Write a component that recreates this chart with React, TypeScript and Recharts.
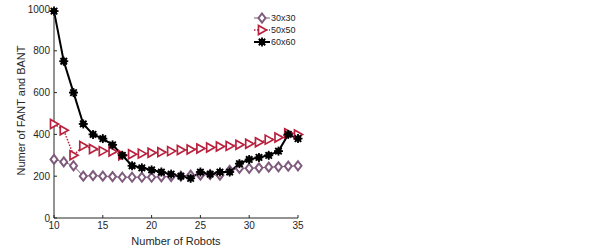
import React from 'react';
import { LineChart, Line, XAxis, YAxis } from 'recharts';

const robots = [10, 11, 12, 13, 14, 15, 16, 17, 18, 19, 20, 21, 22, 23, 24, 25, 26, 27, 28, 29, 30, 31, 32, 33, 34, 35];
const grid30 = [280, 268, 250, 200, 203, 200, 198, 195, 195, 195, 195, 197, 198, 200, 205, 205, 208, 205, 228, 238, 238, 240, 243, 245, 248, 250];
const grid50 = [450, 420, 300, 345, 330, 320, 318, 300, 305, 308, 312, 315, 320, 325, 328, 332, 337, 342, 345, 350, 355, 362, 375, 385, 405, 400];
const grid60 = [990, 750, 600, 450, 400, 380, 350, 300, 250, 240, 230, 220, 210, 200, 190, 220, 210, 220, 220, 260, 280, 290, 300, 320, 400, 380];
const xTicks = [10, 15, 20, 25, 30, 35];
const yTicks = [0, 200, 400, 600, 800, 1000];

const PURPLE = '#7e5a7c';
const RED = '#b8213d';
const INK = '#262626';
const FONT = 'Liberation Sans, Arial, sans-serif';

const data = robots.map((n, i) => ({ n, g30: grid30[i], g50: grid50[i], g60: grid60[i] }));

function Diamond({ cx, cy }: any) {
    if (cx == null) return null;
    return <polygon points={`${cx},${cy - 4.5} ${cx + 3.5},${cy} ${cx},${cy + 4.5} ${cx - 3.5},${cy}`} fill="#fff" stroke={PURPLE} strokeWidth={2} />;
}

function Tri({ cx, cy }: any) {
    if (cx == null) return null;
    return <polygon points={`${cx - 3.5},${cy - 4.5} ${cx + 4.5},${cy} ${cx - 3.5},${cy + 4.5}`} fill="#fff" stroke={RED} strokeWidth={1.7} />;
}

function Star({ cx, cy }: any) {
    if (cx == null) return null;
    const r = 4.5;
    const d = r * 0.72;
    return (
        <g stroke="#000" strokeWidth={1.8}>
            <line x1={cx - r} y1={cy} x2={cx + r} y2={cy} />
            <line x1={cx} y1={cy - r} x2={cx} y2={cy + r} />
            <line x1={cx - d} y1={cy - d} x2={cx + d} y2={cy + d} />
            <line x1={cx - d} y1={cy + d} x2={cx + d} y2={cy - d} />
            <circle cx={cx} cy={cy} r={2.3} fill="#000" />
        </g>
    );
}

// legend drawn on top of the chart, top-right inside the box
function LegendBox() {
    const rows = [
        { label: '30x30', color: PURPLE, dash: undefined, Mark: Diamond, w: 1 },
        { label: '50x50', color: RED, dash: '1.5 1.5', Mark: Tri, w: 1.5 },
        { label: '60x60', color: '#000', dash: undefined, Mark: Star, w: 2 },
    ];
    return (
        <svg width={60} height={40} style={{ position: 'absolute', left: 252, top: 12 }}>
            {rows.map((r, i) => {
                const y = 6 + i * 12;
                return (
                    <g key={r.label}>
                        <line x1={2} y1={y} x2={18} y2={y} stroke={r.color} strokeWidth={r.w} strokeDasharray={r.dash} />
                        <r.Mark cx={10} cy={y} />
                        <text x={19} y={y + 3} fontSize={9} fill={INK} fontFamily={FONT}>{r.label}</text>
                    </g>
                );
            })}
        </svg>
    );
}

export default function App() {
    const tickStyle = { fontSize: 10, fill: INK, fontFamily: FONT };
    return (
        <div style={{ position: 'absolute', left: 0, top: 0, width: 600, height: 250, background: '#fff' }}>
            <LineChart width={600} height={250} data={data} margin={{ top: 9, right: 302, left: 10, bottom: 2 }}>
                <XAxis
                    dataKey="n"
                    type="number"
                    domain={[10, 35]}
                    ticks={xTicks}
                    stroke={INK}
                    tickSize={-3}
                    tickMargin={7}
                    tick={tickStyle}
                    height={30}
                    label={{ value: 'Number of Robots', position: 'insideBottom', offset: 3, fontSize: 11, fill: INK, fontFamily: FONT }}
                />
                <XAxis xAxisId="top" dataKey="n" type="number" domain={[10, 35]} ticks={xTicks} orientation="top" stroke={INK} tickSize={-3} tick={false} height={0} />
                <YAxis
                    domain={[0, 1000]}
                    ticks={yTicks}
                    stroke={INK}
                    tickSize={-3}
                    tickMargin={7}
                    tick={tickStyle}
                    width={44}
                    label={{ value: 'Numer of FANT and BANT', angle: -90, position: 'insideLeft', offset: 11, dy: 62, fontSize: 11, fill: INK, fontFamily: FONT }}
                />
                <YAxis yAxisId="right" domain={[0, 1000]} ticks={yTicks} orientation="right" stroke={INK} tickSize={-3} tick={false} width={0} />
                <Line dataKey="g30" stroke={PURPLE} strokeWidth={1} dot={<Diamond />} isAnimationActive={false} />
                <Line dataKey="g50" stroke={RED} strokeWidth={1.5} strokeDasharray="1.5 1.5" dot={<Tri />} isAnimationActive={false} />
                <Line dataKey="g60" stroke="#000" strokeWidth={2} dot={<Star />} isAnimationActive={false} />
            </LineChart>
            <LegendBox />
        </div>
    );
}
